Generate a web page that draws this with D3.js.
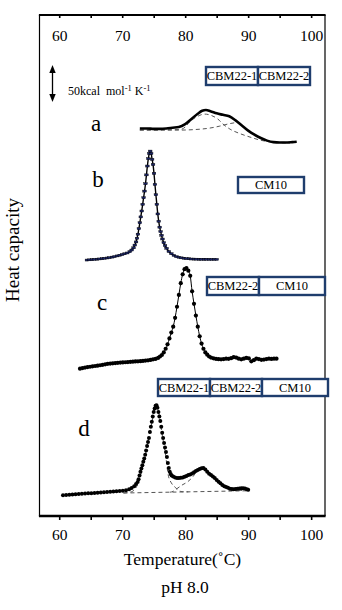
<!DOCTYPE html>
<html>
<head>
<meta charset="utf-8">
<script src="https://cdn.jsdelivr.net/npm/d3@7/dist/d3.min.js"></script>
<style>
  html, body { margin: 0; padding: 0; background: #fff; }
  svg { display: block; }
  svg text { font-family: "Liberation Serif", "Times New Roman", serif !important; fill: #000; }
</style>
</head>
<body>
<svg id="chart" width="342" height="610"></svg>
<script>
// ---- axis ticks ----
const tickValues = [60, 65, 70, 75, 80, 85, 90, 95, 100];
const tickLabels = [60, 70, 80, 90, 100];

// ---- vertical offsets of the stacked thermograms (kcal mol-1 K-1) ----
const offsetA = 505;
const offsetB = 345;
const offsetC = 200;
const offsetD = 20;

// ---- scale bar (kcal mol-1 K-1) ----
const scaleBarFrom = 562;
const scaleBarSize = 50;

// ---- trace a: CBM22-1 + CBM22-2 (temperature °C, excess Cp) ----
const traceA = [[72.8,21],[74,21],[75,20.5],[76,20.5],[77,21],[78,22],[79,23],[80,27],[81,34],[82,41],
  [82.7,45],[83.3,46],[84,44.5],[85,41.5],[86,39.5],[87,37.5],[88,32],[89,25],[90,18],[91,12.5],
  [92,8],[93,4.5],[94,2.5],[95,2],[96,2],[97,2.5],[97.7,3]];
const compA1 = [[72.8,18.8],[79.2,19.5],[80.0,22.9],[80.7,29.7],[81.9,37.1],[83.1,40.5],[84.2,38.5],
  [85.2,33.7],[86.0,27],[87.1,20.2],[88.7,14],[90.3,9.3],[91.9,5.2],[94.2,2.1],[96.6,1.2]];
const compA2 = [[72.8,18.8],[79.2,18.8],[81.5,19.5],[83.9,21.5],[85.5,24.2],[87.1,27.6],[88.3,29],
  [89.6,21.1],[91.1,12],[93.0,4.3],[95.1,2.1],[97.7,2.6]];

// ---- trace b: CM10 ----
const traceB = [[64.4,2.4],[64.8,2.7],[65.2,3.0],[65.6,3.3],[66.0,3.6],[66.4,3.9],[66.8,4.3],[67.2,4.7],
  [67.6,5.2],[68.0,5.7],[68.4,6.4],[68.8,7.1],[69.2,8.0],[69.6,8.9],[70.0,9.9],[70.4,10.9],[70.8,12.0],
  [71.2,13.7],[71.5,16.0],[71.8,19.0],[72.0,22.7],[72.2,27],[72.35,32],[72.5,37.5],[72.65,45],[72.8,53],
  [72.95,61],[73.1,69],[73.25,78],[73.4,87],[73.55,96],[73.7,106],[73.85,118],[74.0,130],[74.15,140],
  [74.3,147],[74.45,150.3],[74.6,147],[74.75,139],[74.9,132],[75.05,120],[75.2,105],[75.35,91],
  [75.5,78],[75.65,65],[75.8,55],[75.95,47],[76.1,41],[76.25,36],[76.4,31],[76.6,26],[76.8,22],
  [77.05,18.3],[77.4,14],[77.8,11],[78.2,8.7],[78.6,7],[79.0,6.1],[79.4,5.4],[79.8,4.8],[80.2,4.4],
  [80.6,4.1],[81.0,3.8],[81.4,3.7],[81.8,3.6],[82.2,3.5],[82.6,3.4],[83.0,3.4],[83.4,3.4],[83.8,3.3],
  [84.2,3.3],[84.6,3.3],[85.0,3.3]];

// ---- trace c: CBM22-2 + CM10 ----
const traceC = [[63.3,0],[63.7,0.8],[64.1,1.5],[64.5,2.1],[64.9,2.6],[65.3,3.1],[65.7,3.6],[66.1,4.1],
  [66.5,4.6],[66.9,5.2],[67.3,5.9],[67.7,6.6],[68.1,6.9],[68.5,7.2],[68.9,7.5],[69.3,7.9],[69.7,8.2],
  [70.1,8.5],[70.5,8.7],[70.9,8.9],[71.3,9.2],[71.7,9.5],[72.1,9.8],[72.5,10.0],[72.9,10.2],[73.3,10.5],
  [73.7,10.9],[74.1,11.3],[74.5,11.9],[74.9,12.6],[75.3,13.2],[75.7,14.5],[76.0,16.5],[76.3,18.5],
  [76.6,22],[76.9,27],[77.2,33],[77.5,41],[77.8,49],[78.1,57],[78.4,69],[78.7,84],[79.0,100],[79.3,116],
  [79.6,128],[79.9,135],[80.2,136.5],[80.5,133],[80.8,126],[81.1,105],[81.4,88],[81.7,72],[82.0,57],
  [82.3,44],[82.6,34],[82.9,27],[83.2,22],[83.5,19],[83.8,16.5],[84.1,15],[84.5,14],[84.9,13.2],
  [85.3,12.8],[85.7,12.6],[86.1,13],[86.5,13.6],[86.9,13.3],[87.3,14.2],[87.7,15.6],[88.1,15.0],
  [88.5,13.5],[88.9,12.6],[89.3,13.6],[89.7,14.6],[90.1,14.0],[90.5,9.9],[90.9,11.5],[91.3,13.5],
  [91.7,13.0],[92.1,12.0],[92.5,12.3],[92.9,13.0],[93.3,13.5],[93.7,13.2],[94.1,13.6],[94.5,13.5]];

// ---- trace d: CBM22-1 + CBM22-2 + CM10 ----
const traceD = [[60.6,8.1],[61.1,8.5],[61.6,8.9],[62.1,9.3],[62.6,9.6],[63.1,9.9],[63.6,10.2],[64.1,10.5],
  [64.6,10.8],[65.1,11.0],[65.6,11.3],[66.1,11.6],[66.6,11.9],[67.1,12.2],[67.6,12.5],[68.1,12.8],
  [68.6,13.1],[69.1,13.5],[69.6,13.9],[70.1,14.3],[70.6,15.0],[71.1,16.2],[71.5,18.0],[71.9,20.5],
  [72.2,23.5],[72.45,26],[72.6,30],[72.75,35],[72.9,40],[73.05,44.5],[73.2,49],[73.35,53.5],[73.5,58],
  [73.65,63],[73.8,69],[73.95,75],[74.1,80.5],[74.25,86],[74.4,94],[74.55,101],[74.7,108],[74.85,115],
  [75.0,121],[75.15,126],[75.3,129.5],[75.45,130.2],[75.6,127],[75.75,121],[75.9,115],[76.05,109],
  [76.2,101],[76.35,93],[76.5,86],[76.65,79],[76.8,73],[76.95,67],[77.1,60],[77.25,52],[77.4,45],
  [77.55,40],[77.7,37],[77.85,35],[78.1,33.5],[78.4,32.3],[78.7,31.6],[79.0,31.5],[79.3,31.8],
  [79.6,32.4],[79.9,33.3],[80.2,34.4],[80.5,35.5],[80.8,36.3],[81.1,37.6],[81.4,39.3],[81.7,41],
  [82.0,42.5],[82.3,43.8],[82.6,44.8],[82.9,45.1],[83.2,43],[83.5,40],[83.8,37.5],[84.1,35.5],
  [84.4,33.5],[84.7,31.6],[85.0,29],[85.3,26.5],[85.6,24.3],[85.9,22],[86.2,20.5],[86.5,19.5],
  [86.8,18.2],[87.1,17.0],[87.4,16.5],[87.7,16.3],[88.0,16.6],[88.3,17.0],[88.6,17.2],[88.9,17.5],
  [89.2,17.8],[89.5,17.3],[89.8,16.4],[90.0,15.7]];
const compD1 = [[70.2,11.2],[71.5,13],[72.5,24],[73.5,56],[74.5,98],[75.45,129],[76.4,88],[76.9,62],
  [77.3,36],[77.8,25],[78.4,19],[78.9,15],[79.5,13],[80.5,12.8]];
const compD2 = [[77.6,12.3],[78.1,13.5],[78.6,16.5],[79.5,22],[80.4,26.5],[81.2,33],[81.8,40],[82.8,45],
  [83.65,38.4],[84.7,31.6],[85.5,24.8],[86.3,20.3],[87.1,17],[88.2,15.5],[89.2,14.6],[90.3,14.3]];
const baseD = [[70.2,11.2],[90.3,14.3]];

// ---- domain labels shown in boxes ----
const legendA = ["CBM22-1", "CBM22-2"];
const legendB = ["CM10"];
const legendC = ["CBM22-2", "CM10"];
const legendD = ["CBM22-1", "CBM22-2", "CM10"];
const panelLetters = ["a", "b", "c", "d"];

// ================= drawing =================
const svg = d3.select("#chart");
const frame = { left: 39.5, right: 325, top: 15, bottom: 516 };

const x = d3.scaleLinear().domain([56.87, 102.2]).range([frame.left, frame.right]);
const y = d3.scaleLinear().domain([0, 680]).range([frame.bottom, frame.top]);

const lineOf = (offset) => d3.line()
  .x(d => x(d[0]))
  .y(d => y(d[1] + offset))
  .curve(d3.curveMonotoneX);

const fmt = d => (tickLabels.includes(d) ? d : "");

// top axis: ticks point into the plot, labels inside
const topAxis = svg.append("g")
  .attr("transform", `translate(0,${frame.top})`)
  .call(d3.axisBottom(x).tickValues(tickValues).tickSize(3).tickPadding(11.5).tickFormat(fmt));
// bottom axis
const botAxis = svg.append("g")
  .attr("transform", `translate(0,${frame.bottom})`)
  .call(d3.axisBottom(x).tickValues(tickValues).tickSize(4).tickPadding(8.5).tickFormat(fmt));
[topAxis, botAxis].forEach(g => {
  g.attr("font-family", null).attr("font-size", null);
  g.select(".domain").remove();
  g.selectAll(".tick line").attr("stroke", "#000").attr("stroke-width", 1.6);
  g.selectAll(".tick text")
    .attr("fill", "#000")
    .attr("font-family", "Liberation Serif")
    .attr("font-size", 15.5);
});

// frame
svg.append("line").attr("x1", frame.left).attr("x2", frame.left)
  .attr("y1", frame.top).attr("y2", frame.bottom).attr("stroke", "#000").attr("stroke-width", 1.2);
svg.append("line").attr("x1", frame.right).attr("x2", frame.right)
  .attr("y1", frame.top).attr("y2", frame.bottom).attr("stroke", "#000").attr("stroke-width", 1.2);
svg.append("line").attr("x1", frame.left - 0.6).attr("x2", frame.right + 0.6)
  .attr("y1", frame.top).attr("y2", frame.top).attr("stroke", "#000").attr("stroke-width", 2);
svg.append("line").attr("x1", frame.left - 0.6).attr("x2", frame.right + 0.6)
  .attr("y1", frame.bottom).attr("y2", frame.bottom).attr("stroke", "#000").attr("stroke-width", 2.6);

// axis titles
svg.append("text").attr("x", 182.5).attr("y", 565).attr("text-anchor", "middle")
  .attr("font-size", 17.5).text("Temperature(˚C)");
svg.append("text").attr("x", 185).attr("y", 593).attr("text-anchor", "middle")
  .attr("font-size", 17.5).text("pH 8.0");
svg.append("text").attr("transform", "translate(19,250) rotate(-90)").attr("text-anchor", "middle")
  .attr("font-size", 19).text("Heat capacity");

// scale bar with double arrow
const sbX = 52.5, sbTop = y(scaleBarFrom + scaleBarSize), sbBot = y(scaleBarFrom);
svg.append("line").attr("x1", sbX).attr("x2", sbX).attr("y1", sbTop + 6).attr("y2", sbBot - 6)
  .attr("stroke", "#000").attr("stroke-width", 1.3);
svg.append("path").attr("d", `M${sbX},${sbTop} L${sbX - 3.2},${sbTop + 8} L${sbX + 3.2},${sbTop + 8} Z`).attr("fill", "#000");
svg.append("path").attr("d", `M${sbX},${sbBot} L${sbX - 3.2},${sbBot - 8} L${sbX + 3.2},${sbBot - 8} Z`).attr("fill", "#000");
const sbText = svg.append("text").attr("x", 68).attr("y", 94.5).attr("font-size", 12);
sbText.append("tspan").text(`${scaleBarSize}kcal\u00a0 mol`);
sbText.append("tspan").attr("dy", -4).attr("font-size", 8.5).text("-1");
sbText.append("tspan").attr("dy", 4).text(" K");
sbText.append("tspan").attr("dy", -4).attr("font-size", 8.5).text("-1");

// panel letters
const letterPos = [[96, 131], [98, 187], [102, 310], [84, 436]];
svg.selectAll("text.panel").data(panelLetters).join("text").attr("class", "panel")
  .attr("x", (d, i) => letterPos[i][0]).attr("y", (d, i) => letterPos[i][1])
  .attr("text-anchor", "middle").attr("font-size", 23).text(d => d);

// domain boxes
const boxColor = "#1f3d6d";
function drawBox(labels, x0, y0, h) {
  let cx = x0;
  labels.forEach(lab => {
    const w = lab === "CM10" ? 66 : 52;
    svg.append("rect").attr("x", cx).attr("y", y0).attr("width", w).attr("height", h)
      .attr("fill", "#fff").attr("stroke", boxColor).attr("stroke-width", 2.4);
    svg.append("text").attr("x", cx + w / 2).attr("y", y0 + h / 2 + 4.3)
      .attr("text-anchor", "middle").attr("font-size", 12.5).text(lab);
    cx += w;
  });
}
drawBox(legendA, 206, 67, 18);
drawBox(legendB, 238, 177, 16);
drawBox(legendC, 207, 277, 18);
drawBox(legendD, 158, 379, 17);

const dashed = (data, offset) => svg.append("path").datum(data).attr("d", lineOf(offset))
  .attr("fill", "none").attr("stroke", "#555").attr("stroke-width", 1).attr("stroke-dasharray", "4,3");

// trace a: deconvoluted components and measured curve
dashed(compA1, offsetA);
dashed(compA2, offsetA);
svg.append("path").datum(traceA).attr("d", lineOf(offsetA))
  .attr("fill", "none").attr("stroke", "#000").attr("stroke-width", 2.6).attr("stroke-linejoin", "round");

// trace b: fit line with data markers
svg.append("path").datum(traceB).attr("d", lineOf(offsetB))
  .attr("fill", "none").attr("stroke", "#000").attr("stroke-width", 1.4);
svg.selectAll("rect.mb").data(traceB).join("rect").attr("class", "mb")
  .attr("x", d => x(d[0]) - 1.8).attr("y", d => y(d[1] + offsetB) - 1)
  .attr("width", 3.6).attr("height", 2)
  .attr("fill", "#1b2463").attr("stroke", "#000").attr("stroke-width", 0.4);

// trace c: fit line with data points
svg.append("path").datum(traceC).attr("d", lineOf(offsetC))
  .attr("fill", "none").attr("stroke", "#000").attr("stroke-width", 1);
svg.selectAll("circle.mc").data(traceC).join("circle").attr("class", "mc")
  .attr("cx", d => x(d[0])).attr("cy", d => y(d[1] + offsetC)).attr("r", 2.1).attr("fill", "#000");

// trace d: baseline, components and data points
dashed(baseD, offsetD);
dashed(compD1, offsetD);
dashed(compD2, offsetD);
svg.selectAll("circle.md").data(traceD).join("circle").attr("class", "md")
  .attr("cx", d => x(d[0])).attr("cy", d => y(d[1] + offsetD)).attr("r", 2).attr("fill", "#000");
</script>
</body>
</html>
